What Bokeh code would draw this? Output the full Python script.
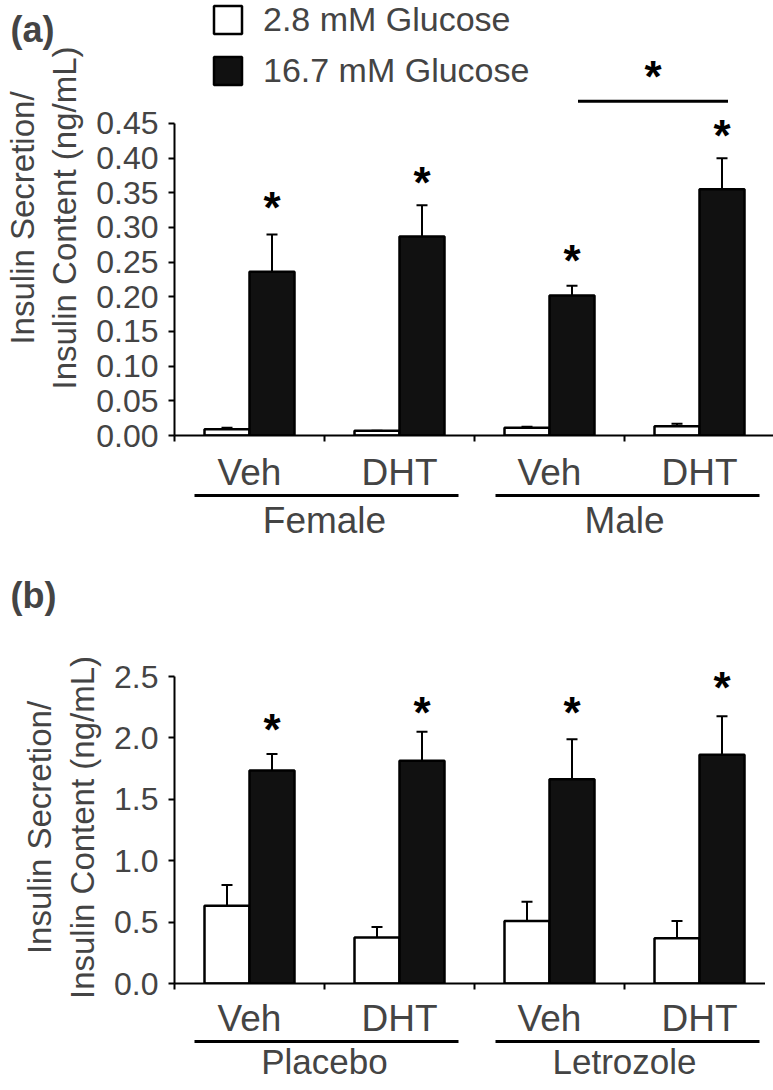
import numpy as np
import pandas as pd
from bokeh.plotting import figure
from bokeh.models import (ColumnDataSource, Range1d, LinearAxis, FixedTicker,
                          NumeralTickFormatter, Whisker, TeeHead, Legend,
                          LegendItem, Label)
from bokeh.core.properties import value
from bokeh.layouts import column
from bokeh.embed import file_html
from bokeh.resources import INLINE

FONT = "Liberation Sans"

# ---------------- data: panel (a) ----------------
treatments_a = ["Veh", "DHT", "Veh", "DHT"]
groups_a = ["Female", "Male"]
low_glucose_a = [0.009, 0.007, 0.011, 0.0135]
low_glucose_err_a = [0.002, 0.0, 0.0015, 0.0035]
high_glucose_a = [0.236, 0.287, 0.202, 0.355]
high_glucose_err_a = [0.054, 0.045, 0.014, 0.045]
star_y_a = [0.338, 0.374, 0.261, 0.441]
y_ticks_a = [0.00, 0.05, 0.10, 0.15, 0.20, 0.25, 0.30, 0.35, 0.40, 0.45]
bracket_bars_a = [2, 3]          # Male Veh vs Male DHT (16.7 mM)
bracket_y_a = 0.482
bracket_star_y_a = 0.526

# ---------------- data: panel (b) ----------------
treatments_b = ["Veh", "DHT", "Veh", "DHT"]
groups_b = ["Placebo", "Letrozole"]
low_glucose_b = [0.634, 0.374, 0.508, 0.369]
low_glucose_err_b = [0.169, 0.086, 0.158, 0.139]
high_glucose_b = [1.735, 1.815, 1.663, 1.864]
high_glucose_err_b = [0.135, 0.235, 0.327, 0.312]
star_y_b = [2.12, 2.26, 2.26, 2.46]
y_ticks_b = [0.0, 0.5, 1.0, 1.5, 2.0, 2.5]

legend_labels = ["2.8 mM Glucose", "16.7 mM Glucose"]
y_title = "Insulin Secretion/\nInsulin Content (ng/mL)"

BAR_W = 0.3
STAR_SIZE = "44px"
STAR_SHIFT = 6
LEFT_PX = 164          # width of the left border (px)
X_PX = 150             # px per group on the x axis


def build_panel(frame_h, top_border, bottom_border, y_end, y_ticks, fmt,
                low, low_err, high, high_err, star_y, treatments, groups,
                ax1_standoff, ax2_standoff, group_font):
    n = len(treatments)
    centers = np.arange(n) + 0.5
    p = figure(frame_width=600, frame_height=frame_h, title=None,
               x_range=Range1d(0, n), y_range=Range1d(0, y_end),
               x_axis_type=None, y_axis_type=None,
               output_backend="svg", toolbar_location=None,
               min_border_left=LEFT_PX, min_border_right=1,
               min_border_top=top_border, min_border_bottom=bottom_border)
    p.outline_line_color = None
    p.xgrid.visible = False
    p.ygrid.visible = False
    p.background_fill_color = "white"
    p.border_fill_color = "white"

    low_src = ColumnDataSource(pd.DataFrame({
        "x": centers - BAR_W / 2, "top": low,
        "upper": np.array(low) + np.array(low_err)}))
    high_src = ColumnDataSource(pd.DataFrame({
        "x": centers + BAR_W / 2, "top": high,
        "upper": np.array(high) + np.array(high_err)}))

    r_low = p.vbar(x="x", top="top", width=BAR_W, source=low_src,
                   fill_color="white", line_color="black", line_width=2.5)
    r_high = p.vbar(x="x", top="top", width=BAR_W, source=high_src,
                    fill_color="#111111", line_color="black", line_width=2.5)

    for src in (low_src, high_src):
        p.add_layout(Whisker(source=src, base="x", lower="top", upper="upper",
                             dimension="height", line_width=2, line_color="black",
                             upper_head=TeeHead(size=11, line_width=2, line_color="black"),
                             lower_head=None))

    star_src = ColumnDataSource(dict(x=centers + BAR_W / 2, y=star_y,
                                     t=["*"] * n))
    p.text(x="x", y="y", text="t", source=star_src, text_align="center",
           text_baseline="middle", text_font=value(FONT),
           text_font_size=value(STAR_SIZE), text_font_style="bold",
           text_color="black", y_offset=STAR_SHIFT)

    # y axis
    yax = LinearAxis(ticker=FixedTicker(ticks=y_ticks),
                     formatter=NumeralTickFormatter(format=fmt),
                     bounds=(y_ticks[0], y_ticks[-1]),
                     axis_label=y_title,
                     axis_label_text_font=FONT,
                     axis_label_text_font_size="33px",
                     axis_label_text_font_style="normal",
                     axis_label_text_line_height=1.15,
                     axis_label_standoff=10,
                     major_label_text_font=FONT,
                     major_label_text_font_size="32px",
                     major_label_standoff=10,
                     major_tick_out=6, major_tick_in=0,
                     major_tick_line_width=2, axis_line_width=2,
                     minor_tick_line_color=None)
    p.add_layout(yax, "left")

    # x axis: treatment labels, ticks at group boundaries
    overrides = {float(c): t for c, t in zip(centers, treatments)}
    xax = LinearAxis(ticker=FixedTicker(ticks=list(centers),
                                        minor_ticks=list(np.arange(n + 1))),
                     major_label_overrides=overrides,
                     major_label_text_font=FONT,
                     major_label_text_font_size="37px",
                     major_label_text_line_height=1.0,
                     major_label_standoff=ax1_standoff,
                     major_tick_line_color=None, major_tick_out=0,
                     major_tick_in=0,
                     minor_tick_out=6, minor_tick_in=0,
                     minor_tick_line_width=2, axis_line_width=2)
    p.add_layout(xax, "below")

    # second x axis: group labels with underline segments
    g_ticks = [1.0, 3.0]
    gax = LinearAxis(ticker=FixedTicker(ticks=g_ticks),
                     major_label_overrides={t: g for t, g in zip(g_ticks, groups)},
                     bounds=(0.133, 3.9),
                     axis_line_width=3, axis_line_dash="264 37",
                     major_label_text_font=FONT,
                     major_label_text_font_size=group_font,
                     major_label_text_line_height=1.0,
                     major_label_standoff=ax2_standoff,
                     major_tick_line_color=None, major_tick_out=0,
                     major_tick_in=0, minor_tick_line_color=None)
    p.add_layout(gax, "below")
    return p, centers, r_low, r_high


def panel_label(text, y):
    return Label(x=-LEFT_PX / X_PX, y=y, x_units="data", y_units="data",
                 text=text, text_font=FONT, text_font_size="36px",
                 text_font_style="bold", text_baseline="middle",
                 text_align="left")


# ---------------- panel (a) ----------------
pa, ca, ra_low, ra_high = build_panel(
    435, 0, 212, 0.6274, y_ticks_a, "0.00",
    low_glucose_a, low_glucose_err_a, high_glucose_a, high_glucose_err_a,
    star_y_a, treatments_a, groups_a, 10, 4, "37px")

i0, i1 = bracket_bars_a
bx0 = ca[i0] + BAR_W / 2 + 0.04
bx1 = ca[i1] + BAR_W / 2 + 0.04
pa.segment(x0=[bx0], y0=[bracket_y_a], x1=[bx1], y1=[bracket_y_a],
           line_width=3, line_color="black")
pa.text(x=[(bx0 + bx1) / 2], y=[bracket_star_y_a], text=["*"],
        text_align="center", text_baseline="middle", text_font=value(FONT),
        text_font_size=value(STAR_SIZE), text_font_style="bold",
        text_color="black", y_offset=STAR_SHIFT)

legend = Legend(items=[LegendItem(label=legend_labels[0], renderers=[ra_low]),
                       LegendItem(label=legend_labels[1], renderers=[ra_high])],
                location=(36, 345), orientation="vertical",
                padding=0, margin=0, spacing=12,
                glyph_width=35, glyph_height=35, label_standoff=18,
                label_text_font=FONT, label_text_font_size="34px",
                border_line_color=None, background_fill_alpha=0)
pa.add_layout(legend)
# panel letters live in the lower border of the first figure (screen space)
pa.add_layout(panel_label("(a)", 0.5856), "below")
pa.add_layout(panel_label("(b)", -0.2308), "below")

# ---------------- panel (b) ----------------
pb, cb, rb_low, rb_high = build_panel(
    312, 24, 100, 2.541, y_ticks_b, "0.0",
    low_glucose_b, low_glucose_err_b, high_glucose_b, high_glucose_err_b,
    star_y_b, treatments_b, groups_b, 8, 0, "35px")

layout = column(pa, pb, spacing=0)
open("out.html", "w").write(file_html(layout, INLINE))
